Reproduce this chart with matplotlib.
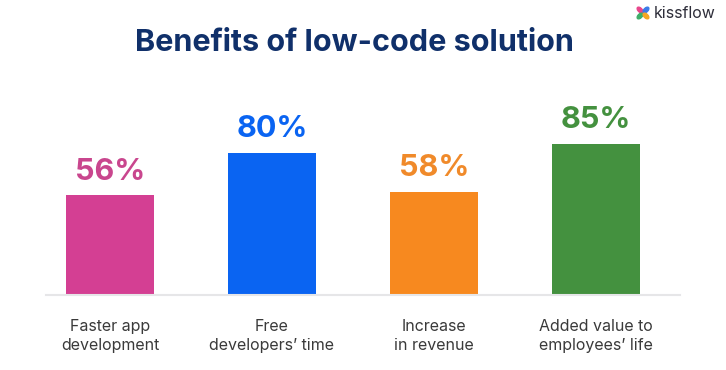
#!/usr/bin/env python3

import numpy as np
import matplotlib
matplotlib.use( 'Agg' )
import matplotlib.pyplot as plt
from matplotlib.patches import Ellipse

#### ========== Data ==========

categories = [ 'Faster app\ndevelopment', 'Free\ndevelopers\u2019 time',
               'Increase\nin revenue', 'Added value to\nemployees\u2019 life' ]
values     = [ 56, 80, 58, 85 ]
colors     = [ '#D43F93', '#0A64F2', '#F7891F', '#44913F' ]
labelColors = [ '#C9468E', '#0A64F2', '#F08A2A', '#44913F' ]

title = 'Benefits of low-code solution'

#### ==========================

W, H = 726, 370
fig = plt.figure( figsize = ( W / 100, H / 100 ), dpi = 100 )
fig.patch.set_facecolor( 'white' )

# axes placed in pixel units
axL, axR, axB, axT = 46, 680, 75, 75 + 178
ax = fig.add_axes( [ axL / W, axB / H, ( axR - axL ) / W, ( axT - axB ) / H ] )

x = np.arange( len( values ) )
ax.bar( x, values, width = 0.543, color = colors, zorder = 2 )

ax.set_xlim( -0.395, 3.52 )
ax.set_ylim( 0, 100 )

for s in [ 'top', 'right', 'left' ]:
    ax.spines[ s ].set_visible( False )
ax.spines[ 'bottom' ].set_color( '#E6E6E8' )
ax.spines[ 'bottom' ].set_linewidth( 1.5 )
ax.set_yticks( [] )
ax.set_xticks( x )
ax.set_xticklabels( categories, fontsize = 11.5, color = '#3A3A3A',
                    family = 'Inter', linespacing = 1.4 )
ax.tick_params( axis = 'x', length = 0, pad = 17 )

for xi, v, c in zip( x, values, labelColors ):
    ax.annotate( '{:d}%'.format( v ), ( xi, v ), xytext = ( 0, 7 ),
                 textcoords = 'offset points', ha = 'center', va = 'bottom',
                 fontsize = 22, fontweight = 'bold', color = c,
                 family = 'Inter' )

fig.text( 354 / W, 1 - 43 / H, title, ha = 'center', va = 'center',
          fontsize = 22, fontweight = 'bold', color = '#10306A',
          family = 'Inter' )

# logo
fig.text( 654 / W, 1 - 13 / H, 'kissflow', ha = 'left', va = 'center',
          fontsize = 11.5, color = '#2E2E3A', family = 'Inter' )
cx, cy = 643, H - 13
petals = [ ( -3, 3, '#E8468C', 135 ), ( 3, 3, '#3B7BE8', 45 ),
           ( -3, -3, '#3FAE6A', 45 ), ( 3, -3, '#F5A623', 135 ) ]
for dx, dy, pc, ang in petals:
    fig.patches.append( Ellipse( ( cx + dx, cy + dy ), 7, 4, angle = ang,
                                 color = pc, transform = None ) )

plt.savefig( 'out.png', dpi = 100 )
plt.close()
